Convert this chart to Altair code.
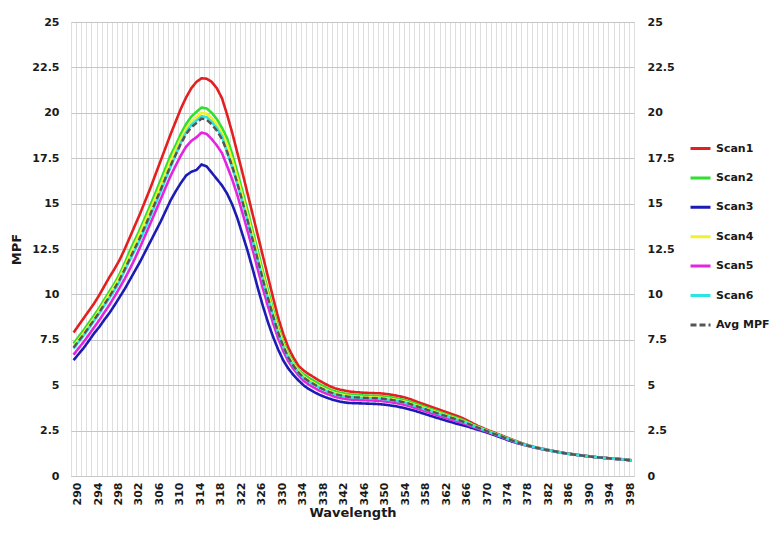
import altair as alt
import pandas as pd

wavelength = list(range(290, 400))

scan1 = [7.9, 8.3, 8.7, 9.1, 9.5, 9.95, 10.45, 10.95, 11.4, 11.9,
         12.5, 13.15, 13.8, 14.45, 15.15, 15.85, 16.6, 17.35, 18.1, 18.85,
         19.55, 20.25, 20.85, 21.35, 21.7, 21.9, 21.88, 21.7, 21.35, 20.8,
         19.9, 18.9, 17.8, 16.7, 15.55, 14.4, 13.25, 12.1, 10.95, 9.8,
         8.7, 7.8, 7.05, 6.5, 6.05, 5.8, 5.6, 5.43, 5.25, 5.1,
         4.95, 4.84, 4.76, 4.7, 4.65, 4.62, 4.6, 4.58, 4.57, 4.56,
         4.55, 4.52, 4.48, 4.43, 4.37, 4.3, 4.21, 4.1, 4.0, 3.9,
         3.8, 3.7, 3.6, 3.5, 3.4, 3.3, 3.19, 3.05, 2.9, 2.76,
         2.64, 2.52, 2.41, 2.3, 2.19, 2.08, 1.97, 1.87, 1.77, 1.68,
         1.6, 1.54, 1.48, 1.42, 1.36, 1.31, 1.26, 1.22, 1.18, 1.15,
         1.11, 1.08, 1.04, 1.01, 0.99, 0.97, 0.95, 0.93, 0.9, 0.87]

scan2 = [7.29, 7.67, 8.04, 8.44, 8.84, 9.25, 9.71, 10.16, 10.6, 11.12,
         11.72, 12.4, 13.0, 13.6, 14.25, 14.91, 15.59, 16.28, 16.98, 17.68,
         18.24, 18.86, 19.39, 19.79, 20.05, 20.29, 20.24, 20.0, 19.65, 19.17,
         18.6, 17.72, 16.72, 15.68, 14.61, 13.5, 12.38, 11.28, 10.2, 9.16,
         8.18, 7.37, 6.71, 6.22, 5.81, 5.6, 5.4, 5.23, 5.06, 4.92,
         4.78, 4.67, 4.6, 4.54, 4.49, 4.47, 4.45, 4.43, 4.42, 4.41,
         4.4, 4.37, 4.33, 4.28, 4.22, 4.16, 4.07, 3.97, 3.87, 3.77,
         3.67, 3.58, 3.48, 3.38, 3.29, 3.19, 3.09, 2.97, 2.83, 2.71,
         2.6, 2.48, 2.38, 2.27, 2.16, 2.05, 1.95, 1.85, 1.76, 1.67,
         1.59, 1.53, 1.47, 1.42, 1.36, 1.31, 1.26, 1.22, 1.18, 1.14,
         1.11, 1.08, 1.04, 1.01, 0.99, 0.97, 0.95, 0.93, 0.9, 0.87]

scan3 = [6.38, 6.72, 7.06, 7.45, 7.85, 8.2, 8.6, 8.97, 9.4, 9.85,
         10.3, 10.8, 11.3, 11.8, 12.35, 12.9, 13.45, 14.0, 14.6, 15.2,
         15.7, 16.15, 16.55, 16.75, 16.85, 17.15, 17.05, 16.7, 16.35, 16.0,
         15.55, 14.95, 14.2, 13.3, 12.4, 11.4, 10.35, 9.35, 8.45, 7.65,
         6.95, 6.35, 5.9, 5.55, 5.25, 4.98, 4.78, 4.62, 4.48, 4.36,
         4.26, 4.17, 4.1, 4.05, 4.02, 4.01, 4.0, 3.99, 3.98, 3.97,
         3.95, 3.92, 3.88, 3.84, 3.78, 3.72, 3.64, 3.56, 3.47, 3.38,
         3.29, 3.2, 3.12, 3.03, 2.95, 2.87, 2.8, 2.72, 2.63, 2.55,
         2.46, 2.37, 2.27, 2.17, 2.07, 1.96, 1.87, 1.79, 1.71, 1.64,
         1.57, 1.51, 1.45, 1.4, 1.35, 1.3, 1.25, 1.21, 1.17, 1.13,
         1.1, 1.07, 1.04, 1.01, 0.99, 0.96, 0.94, 0.92, 0.89, 0.86]

scan4 = [7.14, 7.51, 7.88, 8.28, 8.68, 9.1, 9.56, 10.0, 10.46, 10.95,
         11.55, 12.16, 12.78, 13.39, 14.03, 14.67, 15.34, 16.01, 16.7, 17.39,
         18.01, 18.61, 19.13, 19.51, 19.76, 20.0, 19.95, 19.7, 19.35, 18.88,
         18.25, 17.4, 16.43, 15.41, 14.35, 13.26, 12.15, 11.06, 10.0, 8.98,
         8.04, 7.25, 6.61, 6.14, 5.75, 5.47, 5.27, 5.11, 4.94, 4.8,
         4.67, 4.57, 4.5, 4.44, 4.4, 4.38, 4.36, 4.34, 4.33, 4.32,
         4.31, 4.28, 4.24, 4.19, 4.13, 4.07, 3.98, 3.88, 3.79, 3.69,
         3.6, 3.5, 3.41, 3.31, 3.22, 3.13, 3.03, 2.92, 2.79, 2.68,
         2.57, 2.46, 2.35, 2.25, 2.14, 2.03, 1.93, 1.84, 1.75, 1.66,
         1.59, 1.53, 1.47, 1.41, 1.36, 1.31, 1.25, 1.21, 1.17, 1.14,
         1.1, 1.07, 1.04, 1.01, 0.99, 0.96, 0.94, 0.92, 0.89, 0.86]

scan5 = [6.68, 7.04, 7.39, 7.78, 8.18, 8.57, 9.0, 9.42, 9.88, 10.36,
         10.86, 11.4, 11.98, 12.6, 13.25, 13.9, 14.56, 15.22, 15.9, 16.55,
         17.12, 17.67, 18.14, 18.45, 18.65, 18.91, 18.84, 18.55, 18.2, 17.78,
         17.07, 16.33, 15.46, 14.49, 13.5, 12.45, 11.37, 10.31, 9.33, 8.4,
         7.56, 6.86, 6.3, 5.88, 5.53, 5.23, 5.03, 4.86, 4.71, 4.58,
         4.47, 4.37, 4.3, 4.25, 4.21, 4.19, 4.18, 4.17, 4.16, 4.15,
         4.13, 4.1, 4.06, 4.02, 3.96, 3.89, 3.81, 3.72, 3.63, 3.54,
         3.44, 3.35, 3.26, 3.17, 3.09, 3.0, 2.92, 2.82, 2.71, 2.61,
         2.51, 2.42, 2.31, 2.21, 2.11, 2.0, 1.9, 1.81, 1.73, 1.65,
         1.58, 1.52, 1.46, 1.41, 1.35, 1.3, 1.25, 1.21, 1.17, 1.13,
         1.1, 1.07, 1.04, 1.01, 0.99, 0.96, 0.94, 0.92, 0.89, 0.86]

scan6 = [7.02, 7.38, 7.75, 8.14, 8.54, 8.94, 9.38, 9.8, 10.24, 10.71,
         11.31, 11.88, 12.45, 13.02, 13.64, 14.3, 14.97, 15.65, 16.35, 17.05,
         17.72, 18.38, 18.93, 19.33, 19.57, 19.81, 19.76, 19.5, 19.15, 18.69,
         17.81, 17.0, 16.07, 15.07, 14.04, 12.96, 11.86, 10.78, 9.75, 8.77,
         7.86, 7.1, 6.5, 6.04, 5.67, 5.39, 5.19, 5.03, 4.87, 4.73,
         4.61, 4.51, 4.43, 4.38, 4.34, 4.32, 4.3, 4.29, 4.28, 4.27,
         4.25, 4.22, 4.18, 4.14, 4.08, 4.01, 3.93, 3.83, 3.74, 3.64,
         3.55, 3.45, 3.36, 3.27, 3.18, 3.09, 3.0, 2.89, 2.77, 2.66,
         2.55, 2.45, 2.34, 2.24, 2.13, 2.02, 1.92, 1.83, 1.74, 1.66,
         1.58, 1.52, 1.46, 1.41, 1.35, 1.3, 1.25, 1.21, 1.17, 1.14,
         1.1, 1.07, 1.04, 1.01, 0.99, 0.96, 0.94, 0.92, 0.89, 0.86]

avg_mpf = [7.07, 7.44, 7.8, 8.2, 8.6, 9.0, 9.45, 9.88, 10.33, 10.82,
           11.38, 11.97, 12.55, 13.14, 13.78, 14.42, 15.09, 15.75, 16.44, 17.12,
           17.72, 18.32, 18.83, 19.2, 19.43, 19.68, 19.62, 19.36, 19.01, 18.55,
           17.86, 17.05, 16.12, 15.11, 14.08, 13.0, 11.89, 10.81, 9.78, 8.79,
           7.88, 7.12, 6.51, 6.06, 5.68, 5.41, 5.21, 5.05, 4.88, 4.75,
           4.62, 4.52, 4.45, 4.39, 4.35, 4.33, 4.32, 4.3, 4.29, 4.28,
           4.27, 4.24, 4.2, 4.15, 4.09, 4.03, 3.94, 3.84, 3.75, 3.65,
           3.56, 3.46, 3.37, 3.28, 3.19, 3.1, 3.01, 2.89, 2.77, 2.66,
           2.56, 2.45, 2.34, 2.24, 2.13, 2.02, 1.92, 1.83, 1.74, 1.66,
           1.58, 1.52, 1.46, 1.41, 1.36, 1.31, 1.25, 1.21, 1.17, 1.14,
           1.1, 1.07, 1.04, 1.01, 0.99, 0.96, 0.94, 0.92, 0.89, 0.86]

series_names = ["Scan1", "Scan2", "Scan3", "Scan4", "Scan5", "Scan6", "Avg MPF"]
series_colors = ["#e41f1f", "#2fe02f", "#1c1cb4", "#f2f22a", "#e524e0", "#2ee3e3", "#555555"]
series_dashes = [[1, 0], [1, 0], [1, 0], [1, 0], [1, 0], [1, 0], [6, 3]]
y_ticks = [0, 2.5, 5, 7.5, 10, 12.5, 15, 17.5, 20, 22.5, 25]

wide = pd.DataFrame({
    "Wavelength": wavelength,
    "Scan1": scan1, "Scan2": scan2, "Scan3": scan3,
    "Scan4": scan4, "Scan5": scan5, "Scan6": scan6,
    "Avg MPF": avg_mpf,
})
df = wide.melt(id_vars="Wavelength", var_name="Series", value_name="MPF")

FONT = "DejaVu Sans"
TXT = "#1a1a1a"

color_enc = alt.Color(
    "Series:N",
    scale=alt.Scale(domain=series_names, range=series_colors),
    legend=alt.Legend(
        orient="none", legendX=618, legendY=115, title=None,
        symbolType="stroke", symbolSize=400, symbolStrokeWidth=3,
        labelFont=FONT, labelFontSize=11, labelFontWeight="bold", labelColor=TXT,
        labelOffset=4, rowPadding=11.4,
    ),
)
dash_enc = alt.StrokeDash(
    "Series:N",
    scale=alt.Scale(domain=series_names, range=series_dashes),
)

x_enc = alt.X(
    "Wavelength:O",
    scale=alt.Scale(type="band", paddingInner=0, paddingOuter=0),
    axis=alt.Axis(
        title="Wavelength", titleFont=FONT, titleFontSize=13, titleFontWeight="bold",
        titleColor=TXT, titlePadding=2,
        labelAngle=270, labelFont=FONT, labelFontSize=11, labelFontWeight="bold",
        labelColor=TXT, labelOverlap=False, labelBound=False, labelPadding=6,
        labelOffset=4,
        labelExpr="(datum.value - 290) % 4 == 0 ? datum.label : ''",
        ticks=False, grid=True, gridColor="#dedede", gridWidth=1,
        tickBand="extent", domain=True, domainColor="#c8c8c8",
    ),
)

y_left = alt.Y(
    "MPF:Q",
    scale=alt.Scale(domain=[0, 25], nice=False),
    axis=alt.Axis(
        values=y_ticks, format=".1~f", title="MPF", titleFont=FONT, titleFontSize=13,
        titleFontWeight="bold", titleColor=TXT, titlePadding=8,
        labelFont=FONT, labelFontSize=11, labelFontWeight="bold", labelColor=TXT,
        labelPadding=12, ticks=False, grid=True, gridColor="#c6c6c6", domain=False,
    ),
)
y_right = alt.Y(
    "MPF:Q",
    scale=alt.Scale(domain=[0, 25], nice=False),
    axis=alt.Axis(
        orient="right", values=y_ticks, format=".1~f", title=None,
        labelFont=FONT, labelFontSize=11, labelFontWeight="bold", labelColor=TXT,
        labelPadding=13, ticks=False, grid=False, domain=False,
    ),
)

scans = alt.Chart(df).transform_filter(
    alt.datum.Series != "Avg MPF"
).mark_line(strokeWidth=2.6).encode(
    x=x_enc, y=y_left, color=color_enc, strokeDash=dash_enc,
)
avg = alt.Chart(df).transform_filter(
    alt.datum.Series == "Avg MPF"
).mark_line(strokeWidth=2.4).encode(
    x=x_enc, y=y_right, color=color_enc, strokeDash=dash_enc,
)

chart = alt.layer(scans, avg).resolve_axis(y="independent").properties(
    width=563, height=454,
    autosize=alt.AutoSizeParams(type="none"),
    padding={"left": 63, "top": 14, "right": 135, "bottom": 49},
).configure_view(stroke="#c8c8c8").configure(background="white")

chart.save("out.html", embed_options={"renderer": "svg", "actions": False})
